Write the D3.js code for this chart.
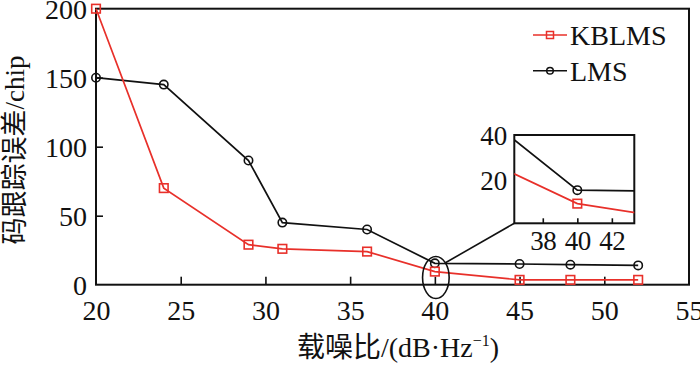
<!DOCTYPE html>
<html><head><meta charset="utf-8">
<script src="https://cdn.jsdelivr.net/npm/d3@7"></script>
<style>body{margin:0;background:#fff}svg{display:block}</style>
</head><body>
<svg id="c" width="700" height="366"></svg>
<script>
const snr = [20, 24, 29, 31, 36, 40, 45, 48, 52];
const kblms = [200, 70, 29, 26, 24, 9.5, 3.5, 3.5, 3.5];
const lms = [150, 145, 90, 45, 40, 15.5, 15, 14.5, 14];
const xTicks = [20, 25, 30, 35, 40, 45, 50, 55];
const yTicks = [0, 50, 100, 150, 200];
const insetXTicks = [38, 40, 42];
const insetYTicks = [20, 40];
const seriesNames = ["KBLMS", "LMS"];
const xTitle = "载噪比/(dB·Hz";
const yTitle = "码跟踪误差/chip";

const RED = "#e8302a", BLK = "#111";
const FONT = "'Liberation Serif','Times New Roman','Noto Sans CJK SC',serif";
const svg = d3.select("#c");
const x = d3.scaleLinear().domain([20, 55]).range([96, 689]);
const y = d3.scaleLinear().domain([0, 200]).range([284.7, 8.7]);
const fmt = d3.format("d");

// frame
svg.append("rect").attr("x", 96).attr("y", 8.7).attr("width", 593).attr("height", 276)
  .attr("fill", "none").attr("stroke", BLK).attr("stroke-width", 2);
svg.append("g").attr("transform", "translate(0,284.7)")
  .call(d3.axisBottom(x).tickValues(xTicks).tickFormat(fmt).tickSizeInner(-8).tickSizeOuter(0).tickPadding(15))
  .call(g => { g.select(".domain").remove();
    g.selectAll("line").attr("stroke", BLK).attr("stroke-width", 1.6);
    g.selectAll("text").attr("font-family", FONT).attr("font-size", 28).attr("fill", "#111"); });
svg.append("g").attr("transform", "translate(96,0)")
  .call(d3.axisLeft(y).tickValues(yTicks).tickFormat(fmt).tickSizeInner(-7).tickSizeOuter(0).tickPadding(9))
  .call(g => { g.select(".domain").remove();
    g.selectAll("line").attr("stroke", BLK).attr("stroke-width", 1.6);
    g.selectAll("text").attr("font-family", FONT).attr("font-size", 28).attr("fill", "#111").attr("dy", "0.34em"); });
svg.selectAll(".tick").filter(d => d === 0 || d === 200 || d === 20 || d === 55).select("line").remove();

const dK = snr.map((s, i) => [s, kblms[i]]);
const dL = snr.map((s, i) => [s, lms[i]]);

function drawSeries(g, data, sx, sy, color) {
  g.append("path").datum(data).attr("fill", "none").attr("stroke", color).attr("stroke-width", 1.7)
    .attr("d", d3.line().x(d => sx(d[0])).y(d => sy(d[1])));
}
function drawMarkers(g, data, sx, sy, color, type) {
  if (type === "sq") {
    g.selectAll(null).data(data).join("rect")
      .attr("x", d => sx(d[0]) - 4.3).attr("y", d => sy(d[1]) - 4.3).attr("width", 8.6).attr("height", 8.6)
      .attr("fill", "none").attr("stroke", color).attr("stroke-width", 1.6);
  } else {
    g.selectAll(null).data(data).join("circle")
      .attr("cx", d => sx(d[0])).attr("cy", d => sy(d[1])).attr("r", 4.2)
      .attr("fill", "none").attr("stroke", color).attr("stroke-width", 1.6);
  }
}
const gm = svg.append("g");
drawSeries(gm, dL, x, y, BLK);
drawSeries(gm, dK, x, y, RED);
drawMarkers(gm, dL, x, y, BLK, "c");
drawMarkers(gm, dK, x, y, RED, "sq");

// zoom ellipse and connector
svg.append("ellipse").attr("cx", x(40) + 1).attr("cy", 277.5).attr("rx", 13.3).attr("ry", 21)
  .attr("fill", "none").attr("stroke", BLK).attr("stroke-width", 1.6);
svg.append("line").attr("x1", 445).attr("y1", 263).attr("x2", 514.3).attr("y2", 223.3)
  .attr("stroke", BLK).attr("stroke-width", 1.6);

// inset
const ix = d3.scaleLinear().domain([36.35, 43.3]).range([514.3, 634.3]);
const iy = d3.scaleLinear().domain([0.76, 40]).range([223.3, 135]);
svg.append("rect").attr("x", 514.3).attr("y", 135).attr("width", 120).attr("height", 88.3)
  .attr("fill", "#fff").attr("stroke", BLK).attr("stroke-width", 2);
svg.append("clipPath").attr("id", "ic").append("rect").attr("x", 514.3).attr("y", 135).attr("width", 120).attr("height", 88.3);
const gi = svg.append("g").attr("clip-path", "url(#ic)");
drawSeries(gi, dL, ix, iy, BLK);
drawSeries(gi, dK, ix, iy, RED);
drawMarkers(gi, dL.filter(d => d[0] === 40), ix, iy, BLK, "c");
drawMarkers(gi, dK.filter(d => d[0] === 40), ix, iy, RED, "sq");
svg.append("g").attr("transform", "translate(0,223.3)")
  .call(d3.axisBottom(ix).tickValues(insetXTicks).tickFormat(fmt).tickSizeInner(-5).tickSizeOuter(0).tickPadding(8))
  .call(g => { g.select(".domain").remove();
    g.selectAll("line").attr("stroke", BLK).attr("stroke-width", 1.6);
    g.selectAll("text").attr("font-family", FONT).attr("font-size", 27).attr("letter-spacing", -0.5).attr("fill", "#111"); });
svg.append("g").attr("transform", "translate(514.3,0)")
  .call(d3.axisLeft(iy).tickValues(insetYTicks).tickFormat(fmt).tickSize(0).tickPadding(7))
  .call(g => { g.select(".domain").remove();
    g.selectAll("text").attr("font-family", FONT).attr("font-size", 27).attr("fill", "#111").attr("dy", "0.34em"); });

// legend
const leg = svg.append("g");
[[RED, "sq", 35], [BLK, "c", 70.7]].forEach(([col, type, ly], i) => {
  leg.append("line").attr("x1", 533).attr("x2", 567).attr("y1", ly).attr("y2", ly).attr("stroke", col).attr("stroke-width", 1.6);
  if (type === "sq") leg.append("rect").attr("x", 546.5).attr("y", ly - 3.5).attr("width", 7).attr("height", 7).attr("fill", "none").attr("stroke", col).attr("stroke-width", 1.5);
  else leg.append("circle").attr("cx", 550).attr("cy", ly).attr("r", 3.3).attr("fill", "none").attr("stroke", col).attr("stroke-width", 1.5);
  leg.append("text").attr("x", 570).attr("y", ly).attr("dy", "0.35em").attr("font-family", FONT).attr("font-size", 28).attr("fill", "#111").text(seriesNames[i]);
});

// axis titles
const xt = svg.append("text").attr("x", 398).attr("y", 357).attr("text-anchor", "middle")
  .attr("font-family", FONT).attr("font-size", 28).attr("fill", "#111");
xt.append("tspan").text(xTitle);
xt.append("tspan").attr("font-size", 16).attr("dy", -11).text("−1");
xt.append("tspan").attr("dy", 11).text(")");
svg.append("text").attr("transform", "translate(15,150) rotate(-90)").attr("text-anchor", "middle")
  .attr("dy", "0.35em").attr("font-family", FONT).attr("font-size", 27).attr("fill", "#111").text(yTitle);
</script>
</body></html>
